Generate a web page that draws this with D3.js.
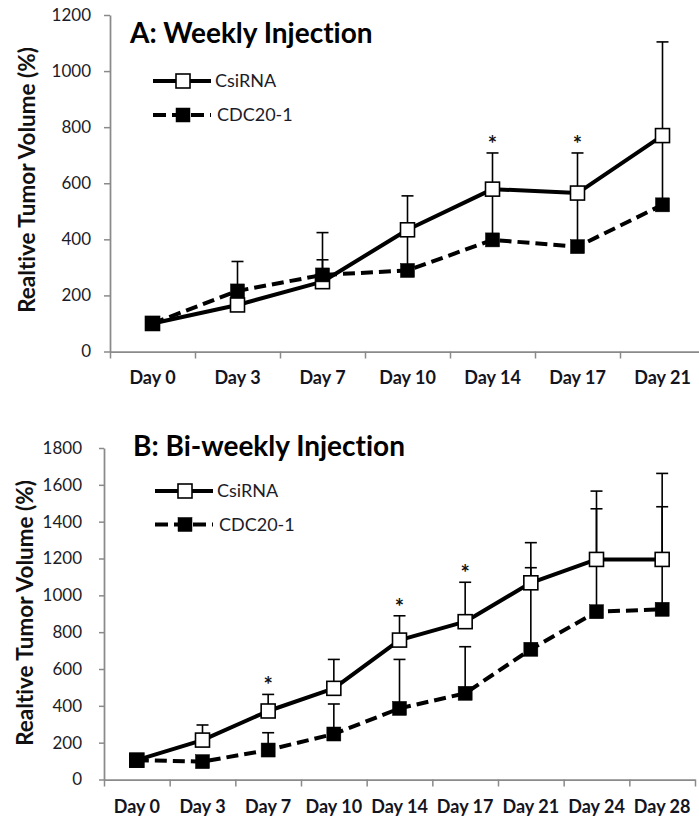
<!DOCTYPE html>
<html><head><meta charset="utf-8">
<script src="https://cdn.jsdelivr.net/npm/d3@7"></script>
<style>body{margin:0;background:#fff}svg{display:block}text{font-variant-ligatures:none;font-feature-settings:"liga" 0}</style>
</head><body><svg id="chart" width="699" height="820"></svg>
<script>
// Panel A: weekly injection
const daysA = ["Day 0", "Day 3", "Day 7", "Day 10", "Day 14", "Day 17", "Day 21"];
const csiA = [100, 166, 249, 434, 579, 565, 770];
const csiA_sd = [8, 34, 175, 121, 129, 143, 334];
const cdcA = [100, 216, 273, 289, 398, 374, 523];
const cdcA_sd = [8, 105, 54, 150, 180, 190, 245];
const sigA = ["Day 14", "Day 17"];
const yTicksA = [0, 200, 400, 600, 800, 1000, 1200];

// Panel B: bi-weekly injection
const daysB = ["Day 0", "Day 3", "Day 7", "Day 10", "Day 14", "Day 17", "Day 21", "Day 24", "Day 28"];
const csiB = [105, 214, 372, 495, 757, 857, 1068, 1195, 1195];
const csiB_sd = [5, 82, 90, 157, 132, 214, 218, 371, 467];
const cdcB = [105, 97, 160, 247, 386, 468, 707, 911, 924];
const cdcB_sd = [5, 30, 94, 163, 266, 253, 443, 559, 557];
const sigB = ["Day 7", "Day 14", "Day 17"];
const yTicksB = [0, 200, 400, 600, 800, 1000, 1200, 1400, 1600, 1800];

const seriesNames = ["CsiRNA", "CDC20-1"];
const yLabel = "Realtive Tumor Volume (%)";

const FONT = "Lato, 'Open Sans', sans-serif";
const AXIS = "#8a8a8a";
const svg = d3.select("#chart");

function drawPanel(p) {
  const g = svg.append("g");
  const x = d3.scaleBand().domain(p.days).range([p.left, p.right]).padding(0);
  const xEdge = d3.scaleLinear().domain([0, p.days.length]).range([p.left, p.right]);
  const y = d3.scaleLinear().domain([0, p.yMax]).range([p.bottom, p.top]);
  const cx = d => x(d) + x.bandwidth() / 2;

  // value axis
  const ya = g.append("g").attr("transform", `translate(${p.left},0)`)
    .call(d3.axisLeft(y).tickValues(p.yTicks).tickFormat(d3.format("d"))
      .tickSize(p.yTickLen).tickPadding(p.yTickPad).tickSizeOuter(0));
  ya.select(".domain").attr("stroke", AXIS).attr("stroke-width", 1.75);
  ya.selectAll(".tick line").attr("stroke", AXIS).attr("stroke-width", 1.5);
  ya.selectAll(".tick text").attr("font-family", FONT).attr("font-size", 17).attr("fill", "#1c1c28");

  // category axis: ticks between categories, labels centred in each band
  const xa = g.append("g").attr("transform", `translate(0,${p.bottom})`)
    .call(d3.axisBottom(xEdge).tickValues(d3.range(p.days.length + 1)).tickFormat("").tickSize(7).tickSizeOuter(0));
  xa.select(".domain").attr("stroke", AXIS).attr("stroke-width", 1.75);
  xa.selectAll(".tick line").attr("stroke", AXIS).attr("stroke-width", 1.5);

  const xl = g.append("g").attr("transform", `translate(0,${p.bottom})`)
    .call(d3.axisBottom(x).tickSize(0).tickPadding(p.xLabelPad));
  xl.select(".domain").remove();
  xl.selectAll(".tick text").attr("font-family", FONT).attr("font-size", 18)
    .attr("font-weight", "bold").attr("fill", "#14141e");

  // axis title
  g.append("text")
    .attr("transform", `translate(${p.yTitleX},${p.yTitleY}) rotate(-90)`)
    .attr("text-anchor", "middle").attr("font-family", FONT).attr("font-size", 22.5)
    .attr("font-weight", "bold").attr("fill", "#111").text(yLabel);

  // panel title
  g.append("text").attr("x", p.titleX).attr("y", p.titleY)
    .attr("font-family", FONT).attr("font-size", 28).attr("font-weight", "bold")
    .attr("fill", "#000").text(p.title);

  const series = [
    { vals: p.cdc, sd: p.cdcSd, dash: "12,6", filled: true },
    { vals: p.csi, sd: p.csiSd, dash: null, filled: false }
  ];

  // error bars (upper)
  series.forEach(s => {
    const eb = g.append("g").attr("stroke", "#000").attr("stroke-width", 1.6);
    p.days.forEach((d, i) => {
      const top = y(s.vals[i] + s.sd[i]);
      eb.append("line").attr("x1", cx(d)).attr("x2", cx(d)).attr("y1", y(s.vals[i])).attr("y2", top);
      eb.append("line").attr("x1", cx(d) - 6).attr("x2", cx(d) + 6).attr("y1", top).attr("y2", top);
    });
  });

  // connecting lines
  const line = d3.line().x((v, i) => cx(p.days[i])).y(v => y(v));
  series.forEach(s => {
    g.append("path").datum(s.vals).attr("d", line).attr("fill", "none")
      .attr("stroke", "#000").attr("stroke-width", 4)
      .attr("stroke-dasharray", s.dash).attr("stroke-linejoin", "round");
  });

  // markers: open squares first, filled squares on top
  [series[1], series[0]].forEach(s => {
    g.append("g").selectAll("rect").data(s.vals).join("rect")
      .attr("x", (v, i) => cx(p.days[i]) - 7).attr("y", v => y(v) - 7)
      .attr("width", 14).attr("height", 14)
      .attr("fill", s.filled ? "#000" : "#fff")
      .attr("stroke", "#000").attr("stroke-width", s.filled ? 0.5 : 1.6);
  });

  // significance marks above the highest error bar
  p.sig.forEach(d => {
    const i = p.days.indexOf(d);
    const top = Math.max(p.csi[i] + p.csiSd[i], p.cdc[i] + p.cdcSd[i]);
    g.append("text").attr("x", cx(d)).attr("y", y(top) - 1)
      .attr("text-anchor", "middle").attr("font-family", FONT).attr("font-size", 22)
      .attr("font-weight", "bold").attr("fill", "#111").text("*");
  });

  // legend
  const lg = g.append("g");
  seriesNames.forEach((name, k) => {
    const ly = p.legendY + k * p.legendGap;
    lg.append("line").attr("x1", p.legendX).attr("x2", p.legendX + 58).attr("y1", ly).attr("y2", ly)
      .attr("stroke", "#000").attr("stroke-width", 4).attr("stroke-dasharray", k ? "13,6" : null);
    lg.append("rect").attr("x", p.legendX + 23).attr("y", ly - 7).attr("width", 14).attr("height", 14)
      .attr("fill", k ? "#000" : "#fff").attr("stroke", "#000").attr("stroke-width", k ? 0.5 : 1.6);
    lg.append("text").attr("x", p.legendX + 62 + k * 2).attr("y", ly).attr("dy", "0.35em")
      .attr("font-family", FONT).attr("font-size", 18).attr("fill", "#1c1c28").text(name);
  });
}

drawPanel({
  days: daysA, csi: csiA, csiSd: csiA_sd, cdc: cdcA, cdcSd: cdcA_sd, sig: sigA,
  yTicks: yTicksA, yMax: 1200, left: 110, right: 705, top: 15, bottom: 351.5,
  yTickLen: 6, yTickPad: 13, xLabelPad: 20, yTitleX: 35, yTitleY: 180,
  title: "A: Weekly Injection", titleX: 130, titleY: 43,
  legendX: 153, legendY: 81, legendGap: 34
});

drawPanel({
  days: daysB, csi: csiB, csiSd: csiB_sd, cdc: cdcB, cdcSd: cdcB_sd, sig: sigB,
  yTicks: yTicksB, yMax: 1800, left: 104, right: 695, top: 448, bottom: 779.5,
  yTickLen: 5, yTickPad: 17, xLabelPad: 21, yTitleX: 33, yTitleY: 613,
  title: "B: Bi-weekly Injection", titleX: 133, titleY: 456,
  legendX: 155, legendY: 491, legendGap: 33.5
});
</script></body></html>
